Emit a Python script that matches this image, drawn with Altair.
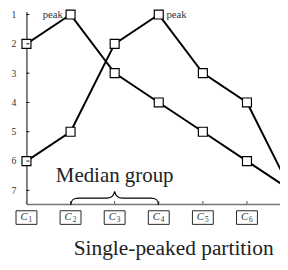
import altair as alt
import pandas as pd

# ---- data ----
positions = [1, 2, 3, 4, 5, 6, 7]
subscripts = ["1", "2", "3", "4", "5", "6", "7"]
voter_a = [2, 1, 3, 4, 5, 6, 7]
voter_b = [6, 5, 2, 1, 3, 4, 7]
rank_ticks = [1, 2, 3, 4, 5, 6, 7]
peak_pos = [2, 4]
peak_rank = [1, 1]
peak_side = ["left", "right"]
median_center = [3]
visible_labels = 6  # candidate labels fully inside the picture

lines = pd.DataFrame({
    "pos": positions * 2,
    "rank": voter_a + voter_b,
    "voter": ["a"] * len(voter_a) + ["b"] * len(voter_b),
})
cands = pd.DataFrame({"pos": positions, "sub": subscripts})
cand_text = cands.iloc[:visible_labels]
ranks = pd.DataFrame({"rank": rank_ticks})
peaks = pd.DataFrame({"pos": peak_pos, "rank": peak_rank, "side": peak_side})
median = pd.DataFrame({"pos": median_center})

SERIF = "Liberation Serif, DejaVu Serif, serif"
xs = alt.Scale(domain=[1, 6.749], nice=False, zero=False)
ys = alt.Scale(domain=[0.9006, 7.4641], reverse=True, nice=False, zero=False)

x_axis = alt.Axis(labels=False, ticks=False, grid=False, domainColor="#777777",
                  domainWidth=1.5, title="Single-peaked partition", titleX=151,
                  titleY=52, titleAlign="center", titleBaseline="alphabetic",
                  titleFont=SERIF, titleFontSize=22, titleFontWeight="normal",
                  titleColor="#222222")
y_axis = alt.Axis(values=rank_ticks, grid=False, ticks=False, domainColor="black",
                  domainWidth=1, labelFont=SERIF, labelFontSize=10,
                  labelColor="#333333", labelPadding=11, title=None)

X = alt.X("pos:Q", scale=xs, axis=x_axis)
Y = alt.Y("rank:Q", scale=ys, axis=y_axis)

line_layer = alt.Chart(lines).mark_line(color="black", strokeWidth=2, clip=True).encode(
    x=X, y=Y, detail="voter:N",
)
point_layer = alt.Chart(lines).mark_point(
    shape="square", filled=True, fill="white", stroke="black", strokeWidth=1.2,
    size=85, opacity=1
).encode(x=X, y=Y)

ytick_layer = alt.Chart(ranks).mark_rule(color="black", strokeWidth=1).encode(
    y=Y, x=alt.value(0), x2=alt.value(3)
)
xtick_layer = alt.Chart(cands).mark_rule(color="#555555", strokeWidth=1).encode(
    x=X, y=alt.value(198), y2=alt.value(195)
)

box_layer = alt.Chart(cands).mark_point(
    shape="M-1,-0.651H1V0.651H-1Z", size=462, filled=False, stroke="#222222",
    strokeWidth=1, opacity=1
).encode(x=X, y=alt.value(212))
c_layer = alt.Chart(cand_text).mark_text(
    text="C", font=SERIF, fontStyle="italic", fontSize=11, dx=-2.5,
    baseline="alphabetic", color="#333333"
).encode(x=X, y=alt.value(214.5))
sub_layer = alt.Chart(cand_text).mark_text(
    font=SERIF, fontSize=7.5, dx=4, baseline="alphabetic", color="#333333"
).encode(x=X, y=alt.value(216.5), text="sub:N")

brace_path = ("M-1,0.156 C-1,0.04 -0.95,0 -0.82,0 L-0.18,0 C-0.06,0 -0.02,-0.06 0,-0.156 "
              "C0.02,-0.06 0.06,0 0.18,0 L0.82,0 C0.95,0 1,0.04 1,0.156")
brace_layer = alt.Chart(median).mark_point(
    shape=brace_path, size=8100, filled=False, fill="transparent", stroke="black",
    strokeWidth=1.1, opacity=1
).encode(x=X, y=alt.value(192))
median_text = alt.Chart(median).mark_text(
    text="Median group", font=SERIF, fontSize=21.5, baseline="alphabetic",
    align="center", color="#222222"
).encode(x=X, y=alt.value(175))

peak_left = alt.Chart(peaks[peaks.side == "left"]).mark_text(
    text="peak", font=SERIF, fontSize=11, align="right", dx=-8, dy=0.5,
    baseline="middle", color="#333333"
).encode(x=X, y=Y)
peak_right = alt.Chart(peaks[peaks.side == "right"]).mark_text(
    text="peak", font=SERIF, fontSize=11, align="left", dx=8, dy=0.5,
    baseline="middle", color="#333333"
).encode(x=X, y=Y)

chart = alt.layer(
    line_layer, point_layer, ytick_layer, xtick_layer, box_layer, c_layer,
    sub_layer, brace_layer, median_text, peak_left, peak_right
).properties(
    width=261, height=198,
    autosize=alt.AutoSizeParams(type="none"),
    padding={"left": 19, "top": 0, "right": 0, "bottom": 56},
).configure_view(stroke=None)

chart.save("out.html", embed_options={"renderer": "svg", "actions": False})
